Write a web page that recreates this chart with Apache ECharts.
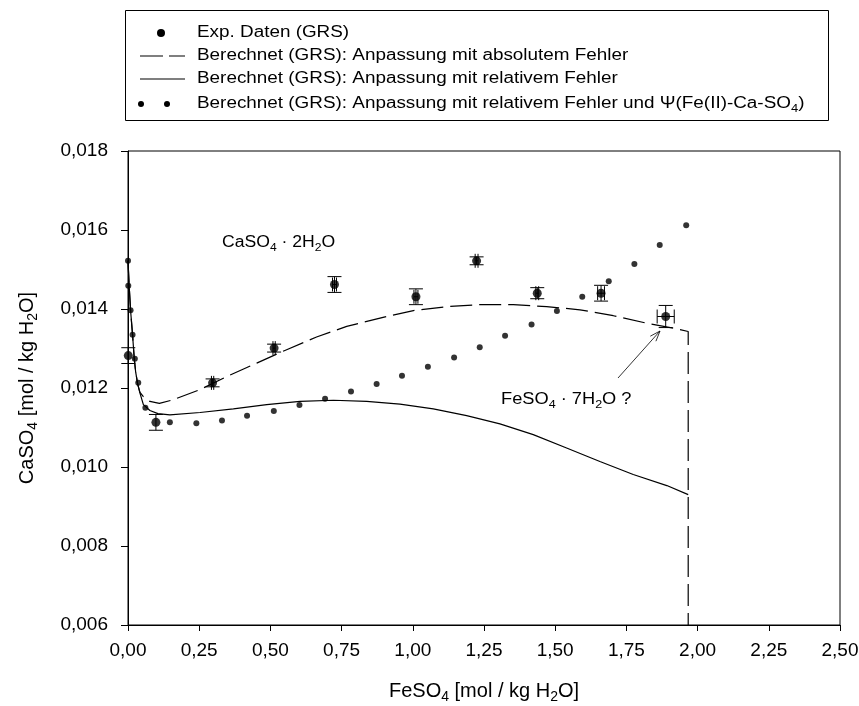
<!DOCTYPE html>
<html lang="de">
<head>
<meta charset="UTF-8">
<title>CaSO4 - FeSO4 - H2O</title>
<script src="https://cdn.jsdelivr.net/npm/echarts@6.0.0/dist/echarts.min.js"></script>
<style>
  html, body { margin: 0; padding: 0; background: #fff; }
  #chart { width: 859px; height: 706px; }
</style>
</head>
<body>
<div id="chart"></div>
<script>
// Exp. Daten (GRS): FeSO4 / CaSO4 in mol/kg H2O, mit Fehlerbalken
const expX    = [0.001, 0.098, 0.297, 0.513, 0.725, 1.011, 1.224, 1.437, 1.661, 1.888];
const expY    = [0.01282, 0.01113, 0.01213, 0.01301, 0.01462, 0.01431, 0.01522, 0.01440, 0.01440, 0.01381];
const expXErr = [0, 0, 0.004, 0.004, 0.007, 0.007, 0.005, 0.005, 0.012, 0.030];
const expYErr = [0.0002, 0.0002, 0.0001, 0.0001, 0.0002, 0.0002, 0.0001, 0.00014, 0.0002, 0.00028];

// Berechnet: Anpassung mit absolutem Fehler (gestrichelt, endet senkrecht bei 1,967)
const absX = [0, 0.004, 0.009, 0.016, 0.022, 0.027, 0.034, 0.042, 0.054, 0.077, 0.11, 0.153, 0.253, 0.347,
              0.452, 0.557, 0.662, 0.768, 0.885, 1.002, 1.119, 1.236, 1.353, 1.470, 1.587, 1.704, 1.821,
              1.932, 1.967, 1.967];
const absY = [0.01522, 0.0146, 0.01397, 0.01335, 0.01274, 0.0124, 0.0121, 0.01189, 0.01178, 0.01166, 0.01161,
              0.01169, 0.01196, 0.01229, 0.01263, 0.01297, 0.01329, 0.01356, 0.01377, 0.01396, 0.01406,
              0.01411, 0.01411, 0.01406, 0.01398, 0.01383, 0.01364, 0.01349, 0.01343, 0.006];

// Berechnet: Anpassung mit relativem Fehler (durchgezogen)
const relX = [0, 0.004, 0.009, 0.016, 0.022, 0.027, 0.034, 0.042, 0.054, 0.077, 0.105, 0.147, 0.253, 0.370,
              0.487, 0.604, 0.721, 0.838, 0.955, 1.072, 1.189, 1.306, 1.423, 1.540, 1.657, 1.774, 1.892, 1.967];
const relY = [0.01522, 0.0146, 0.01397, 0.01335, 0.01274, 0.0124, 0.0121, 0.01187, 0.01158, 0.01143, 0.01135,
              0.01132, 0.01138, 0.01147, 0.01158, 0.01166, 0.01169, 0.01166, 0.01159, 0.01147, 0.0113,
              0.01109, 0.01082, 0.01048, 0.01014, 0.00981, 0.00953, 0.0093];

// Berechnet: relativer Fehler + Psi(Fe(II)-Ca-SO4) (punktiert)
const psiX = [0, 0.001, 0.009, 0.016, 0.024, 0.036, 0.061, 0.147, 0.240, 0.330, 0.418, 0.512, 0.602, 0.692,
              0.783, 0.873, 0.962, 1.053, 1.145, 1.235, 1.324, 1.417, 1.506, 1.595, 1.688, 1.778, 1.867, 1.960];
const psiY = [0.01522, 0.01459, 0.01397, 0.01335, 0.01274, 0.01213, 0.0115, 0.01113, 0.01111, 0.01118, 0.0113,
              0.01142, 0.01157, 0.01173, 0.01191, 0.0121, 0.01231, 0.01254, 0.01277, 0.01303, 0.01332,
              0.01361, 0.01395, 0.01431, 0.0147, 0.01514, 0.01562, 0.01612];

const legendLabels = [
  'Exp. Daten (GRS)',
  'Berechnet (GRS): Anpassung mit absolutem Fehler',
  'Berechnet (GRS): Anpassung mit relativem Fehler',
  'Berechnet (GRS): Anpassung mit relativem Fehler und \u03A8(Fe(II)-Ca-SO{s|4})'
];

const FONT = 'Liberation Sans, Arial, sans-serif';
const zip = (xs, ys) => xs.map((x, i) => [x, ys[i]]);

// Tiefgestellte Zeichen im Fliesstext
const rich = {
  s: { fontSize: 11, fontFamily: FONT, color: '#000', verticalAlign: 'bottom' }
};
const richName = {
  n: { fontSize: 20, fontFamily: FONT, color: '#000', lineHeight: 25 },
  s: { fontSize: 14, fontFamily: FONT, color: '#000', verticalAlign: 'bottom' }
};
// Text etwas breiter laufen lassen wie im Original
const txt = (x, y, t, sx) => ({
  type: 'text', x: x, y: y, scaleX: sx,
  style: { text: t, rich: rich, font: '16px ' + FONT, fill: '#000', lineHeight: 21, verticalAlign: 'middle' }
});

const chart = echarts.init(document.getElementById('chart'));

// Legende als Kasten oben
const lx = 140, rows = [33, 56, 79, 104];
const legendGraphic = [
  { type: 'rect', shape: { x: 125.5, y: 10.5, width: 703, height: 110 },
    style: { fill: 'none', stroke: '#000', lineWidth: 1 } },
  { type: 'circle', shape: { cx: 161, cy: rows[0], r: 4 }, style: { fill: '#000' } },
  { type: 'line', shape: { x1: lx, y1: rows[1], x2: lx + 45, y2: rows[1] },
    style: { stroke: '#000', lineWidth: 1.2, lineDash: [23, 6] } },
  { type: 'line', shape: { x1: lx, y1: rows[2], x2: lx + 45, y2: rows[2] },
    style: { stroke: '#000', lineWidth: 1.2 } },
  { type: 'circle', shape: { cx: lx + 1, cy: rows[3], r: 3 }, style: { fill: '#000' } },
  { type: 'circle', shape: { cx: lx + 27, cy: rows[3], r: 3 }, style: { fill: '#000' } }
];
legendLabels.forEach((t, i) => legendGraphic.push(txt(197, rows[i], t, 1.18)));

// Beschriftungen im Diagramm
const ax0 = 618, ay0 = 378, ax1 = 660, ay1 = 331;
const ang = Math.atan2(ay1 - ay0, ax1 - ax0), hl = 11, ha = 0.35;
const annot = [
  txt(222, 243, 'CaSO{s|4} \u00B7 2H{s|2}O', 1.1),
  txt(501, 400, 'FeSO{s|4} \u00B7 7H{s|2}O ?', 1.14),
  { type: 'line', shape: { x1: ax0, y1: ay0, x2: ax1, y2: ay1 }, style: { stroke: '#000', lineWidth: 0.8 } },
  { type: 'polyline', shape: { points: [
      [ax1 - hl * Math.cos(ang - ha), ay1 - hl * Math.sin(ang - ha)],
      [ax1, ay1],
      [ax1 - hl * Math.cos(ang + ha), ay1 - hl * Math.sin(ang + ha)]
    ] }, style: { stroke: '#000', lineWidth: 0.8, fill: 'none' } }
];

const option = {
  animation: false,
  backgroundColor: '#fff',
  grid: {
    left: 128, right: 19, top: 151, bottom: 81,
    show: true, borderColor: '#000', borderWidth: 1,
    containLabel: false, outerBoundsMode: 'none'
  },
  xAxis: {
    type: 'value', min: 0, max: 2.5, interval: 0.25,
    name: '{n|FeSO}{s|4}{n| [mol / kg H}{s|2}{n|O]}',
    nameLocation: 'middle', nameGap: 54,
    nameTextStyle: { rich: richName },
    axisLine: { show: true, lineStyle: { color: '#000', width: 1 } },
    axisTick: { show: true, inside: false, length: 6, lineStyle: { color: '#000' } },
    axisLabel: { color: '#000', fontSize: 19, fontFamily: FONT, margin: 16,
                 formatter: v => v.toFixed(2).replace('.', ',') },
    splitLine: { show: false }
  },
  yAxis: {
    type: 'value', min: 0.006, max: 0.018, interval: 0.002,
    name: '{n|CaSO}{s|4}{n| [mol / kg H}{s|2}{n|O]}',
    nameLocation: 'middle', nameGap: 88, nameRotate: 90,
    nameTextStyle: { rich: richName },
    axisLine: { show: true, lineStyle: { color: '#000', width: 1 } },
    axisTick: { show: true, inside: false, length: 7, lineStyle: { color: '#000' } },
    axisLabel: { color: '#000', fontSize: 19, fontFamily: FONT, margin: 20,
                 formatter: v => v.toFixed(3).replace('.', ',') },
    splitLine: { show: false }
  },
  graphic: legendGraphic.concat(annot),
  series: [
    {
      name: legendLabels[1], type: 'line', data: zip(absX, absY),
      symbol: 'none', showSymbol: false, smooth: false,
      lineStyle: { color: '#000', width: 1.2, type: [22, 7] }, z: 2
    },
    {
      name: legendLabels[2], type: 'line', data: zip(relX, relY),
      symbol: 'none', showSymbol: false, smooth: false,
      lineStyle: { color: '#000', width: 1.2 }, z: 2
    },
    {
      name: legendLabels[3], type: 'scatter', data: zip(psiX, psiY),
      symbol: 'circle', symbolSize: 6, itemStyle: { color: '#000' }, z: 3
    },
    {
      name: 'Fehlerbalken', type: 'custom',
      data: expX.map((x, i) => [x, expY[i], expXErr[i], expYErr[i]]),
      encode: { x: 0, y: 1 },
      renderItem(params, api) {
        const x = api.value(0), y = api.value(1), dx = api.value(2), dy = api.value(3);
        const st = { stroke: '#000', lineWidth: 1 };
        const cap = 7;
        const top = api.coord([x, y + dy]), bot = api.coord([x, y - dy]);
        const kids = [
          { type: 'line', shape: { x1: top[0], y1: top[1], x2: bot[0], y2: bot[1] }, style: st },
          { type: 'line', shape: { x1: top[0] - cap, y1: top[1], x2: top[0] + cap, y2: top[1] }, style: st },
          { type: 'line', shape: { x1: bot[0] - cap, y1: bot[1], x2: bot[0] + cap, y2: bot[1] }, style: st }
        ];
        if (dx > 0) {
          const l = api.coord([x - dx, y]), r = api.coord([x + dx, y]);
          kids.push(
            { type: 'line', shape: { x1: l[0], y1: l[1], x2: r[0], y2: r[1] }, style: st },
            { type: 'line', shape: { x1: l[0], y1: l[1] - cap, x2: l[0], y2: l[1] + cap }, style: st },
            { type: 'line', shape: { x1: r[0], y1: r[1] - cap, x2: r[0], y2: r[1] + cap }, style: st }
          );
        }
        return { type: 'group', children: kids };
      },
      z: 4
    },
    {
      name: legendLabels[0], type: 'scatter', data: zip(expX, expY),
      symbol: 'circle', symbolSize: 9, itemStyle: { color: '#000' }, z: 5
    }
  ]
};

chart.setOption(option);
</script>
</body>
</html>
